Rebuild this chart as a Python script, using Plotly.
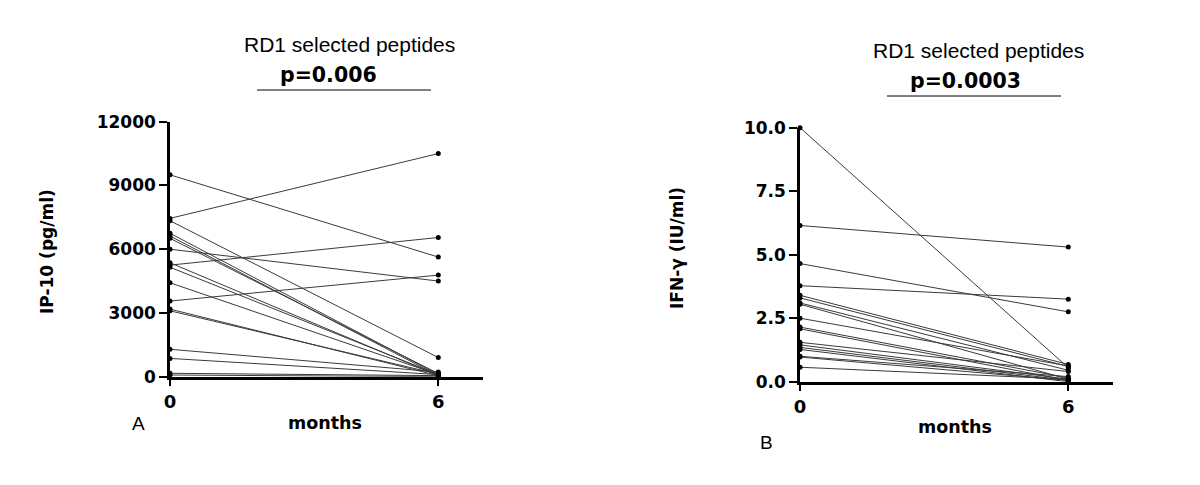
import plotly.graph_objects as go

months = [0, 6]

# Panel A: IP-10 (pg/ml), each subject: value at 0 months, value at 6 months
ip10_m0 = [9500, 7450, 7340, 6750, 6620, 6510, 6000, 5360, 5250, 5150, 4420, 3560, 3180, 3100, 1290, 860, 160, 80]
ip10_m6 = [5630, 10500, 900, 100, 50, 150, 4500, 50, 6550, 100, 100, 4780, 50, 120, 220, 100, 50, 0]

# Panel B: IFN-gamma (IU/ml)
ifn_m0 = [10.0, 6.15, 4.65, 3.78, 3.40, 3.30, 3.10, 3.05, 2.50, 2.15, 2.08, 1.55, 1.45, 1.35, 1.27, 1.00, 0.97, 0.57]
ifn_m6 = [0.55, 5.30, 2.75, 3.25, 0.68, 0.60, 0.45, 0.10, 0.62, 0.15, 0.05, 0.40, 0.10, 0.05, 0.00, 0.20, 0.05, 0.10]

ip10_ticks = [0, 3000, 6000, 9000, 12000]
ifn_ticks = [0, 2.5, 5.0, 7.5, 10.0]

W, H = 1200, 485
OFF = 8  # page body margin
fig = go.Figure()

def add_subject(xa, ya, a, b):
    fig.add_trace(go.Scatter(
        x=months, y=[a, b], mode="lines+markers", xaxis=xa, yaxis=ya,
        line=dict(color="#3a3a3a", width=1),
        marker=dict(color="black", size=5),
        cliponaxis=False, showlegend=False, hoverinfo="skip"))

for a, b in zip(ip10_m0, ip10_m6):
    add_subject("x", "y", a, b)
for a, b in zip(ifn_m0, ifn_m6):
    add_subject("x2", "y2", a, b)

ytickfont = dict(family="DejaVu Sans", size=17, color="black")
xtickfont = dict(family="DejaVu Sans", size=18, color="black")
axis_common = dict(showgrid=False, zeroline=False, showline=True, linecolor="black",
                   linewidth=2.5, ticks="outside", tickcolor="black", tickwidth=2,
                   automargin=False)

def px_x(p):
    return (p - OFF) / W

def px_y(p):
    return 1 - (p - OFF) / H

fig.update_layout(
    template="none",
    width=W, height=H, margin=dict(l=0, r=0, t=0, b=0, pad=0),
    paper_bgcolor="white", plot_bgcolor="white",
    font=dict(family="DejaVu Sans", color="black"),
    xaxis=dict(domain=[px_x(170), px_x(483)], range=[0, 7], tickvals=months,
               ticktext=["<b>0</b>", "<b>6</b>"], ticklen=7, anchor="y",
               tickfont=xtickfont, **axis_common),
    yaxis=dict(domain=[px_y(376.7), px_y(121.7)], range=[0, 12000], tickvals=ip10_ticks,
               ticktext=["<b>%d</b>" % v for v in ip10_ticks], ticklen=8, anchor="x",
               tickfont=ytickfont, **axis_common),
    xaxis2=dict(domain=[px_x(800), px_x(1113)], range=[0, 7], tickvals=months,
                ticktext=["<b>0</b>", "<b>6</b>"], ticklen=7, anchor="y2",
                tickfont=xtickfont, **axis_common),
    yaxis2=dict(domain=[px_y(381.7), px_y(127.7)], range=[0, 10], tickvals=ifn_ticks,
                ticktext=["<b>%.1f</b>" % v for v in ifn_ticks], ticklen=8, anchor="x2",
                tickfont=ytickfont, **axis_common),
)

def ann(text, x, y, size, family, bold=False, angle=0):
    fig.add_annotation(x=px_x(x), y=px_y(y), xref="paper", yref="paper",
                       text=("<b>%s</b>" % text) if bold else text, showarrow=False,
                       xanchor="center", yanchor="middle", textangle=angle,
                       font=dict(size=size, family=family, color="black"))

arial = "Liberation Sans, Arial"
bold = "DejaVu Sans"

# Panel A texts
ann("RD1 selected peptides", 350, 45, 21, arial)
ann("p=0.006", 328, 75, 20.5, bold, bold=True)
ann("months", 325, 423, 17.5, bold, bold=True)
ann("A", 138, 423, 19, arial)
ann("IP-10 (pg/ml)", 47, 252, 17, bold, bold=True, angle=-90)

# Panel B texts
ann("RD1 selected peptides", 978, 50, 21, arial)
ann("p=0.0003", 965, 81, 20.5, bold, bold=True)
ann("months", 955, 427, 17.5, bold, bold=True)
ann("B", 767, 442, 19, arial)
ann("IFN-γ (IU/ml)", 677, 248, 17, bold, bold=True, angle=-90)

# Significance bars under p-values
fig.add_shape(type="line", xref="paper", yref="paper", x0=px_x(257), x1=px_x(431),
              y0=px_y(90), y1=px_y(90), line=dict(color="black", width=1))
fig.add_shape(type="line", xref="paper", yref="paper", x0=px_x(887), x1=px_x(1061),
              y0=px_y(96), y1=px_y(96), line=dict(color="black", width=1))

fig.write_html("out.html")
